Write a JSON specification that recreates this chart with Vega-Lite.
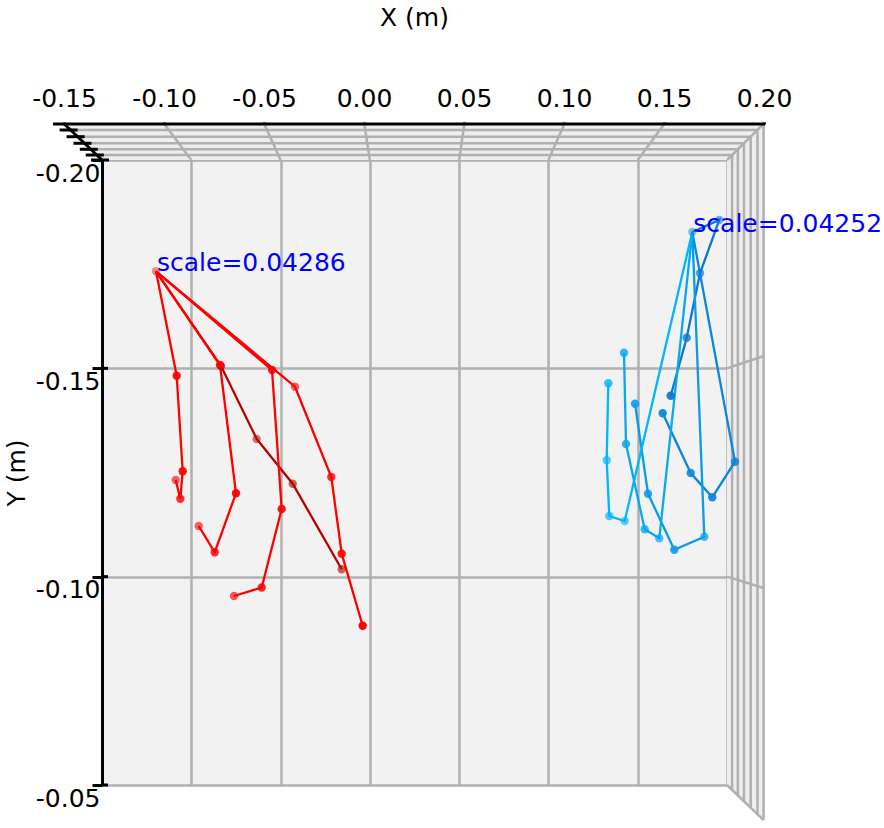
{
  "$schema": "https://vega.github.io/schema/vega-lite/v6.json",
  "width": 625,
  "height": 625,
  "autosize": {"type": "none"},
  "padding": {"left": 102, "top": 160, "right": 157, "bottom": 43},
  "background": "white",
  "config": {"view": {"fill": "#f2f2f2", "stroke": null}, "font": "DejaVu Sans"},
  "datasets": {
    "skeleton": [
      {"chain": "r0", "i": 0, "x": -0.11976, "y": -0.17329, "z": 0.2},
      {"chain": "r0", "i": 1, "x": -0.08336, "y": -0.15056, "z": 0.6},
      {"chain": "r0", "i": 2, "x": -0.06337, "y": -0.13304, "z": 0.35},
      {"chain": "r0", "i": 3, "x": -0.04321, "y": -0.12231, "z": 0.45},
      {"chain": "r0", "i": 4, "x": -0.01577, "y": -0.10177, "z": 0.45},
      {"chain": "r1", "i": 0, "x": -0.11976, "y": -0.17329, "z": 0.2},
      {"chain": "r1", "i": 1, "x": -0.10817, "y": -0.14823, "z": 0.9},
      {"chain": "r1", "i": 2, "x": -0.10481, "y": -0.12529, "z": 0.9},
      {"chain": "r1", "i": 3, "x": -0.10615, "y": -0.11871, "z": 0.75},
      {"chain": "r1", "i": 4, "x": -0.10873, "y": -0.1232, "z": 0.45},
      {"chain": "r2", "i": 0, "x": -0.11976, "y": -0.17329, "z": 0.2},
      {"chain": "r2", "i": 1, "x": -0.08392, "y": -0.1508, "z": 0.9},
      {"chain": "r2", "i": 2, "x": -0.07496, "y": -0.12001, "z": 0.9},
      {"chain": "r2", "i": 3, "x": -0.08689, "y": -0.10585, "z": 0.75},
      {"chain": "r2", "i": 4, "x": -0.09585, "y": -0.11216, "z": 0.45},
      {"chain": "r3", "i": 0, "x": -0.11976, "y": -0.17329, "z": 0.2},
      {"chain": "r3", "i": 1, "x": -0.0548, "y": -0.1496, "z": 0.8},
      {"chain": "r3", "i": 2, "x": -0.04937, "y": -0.11624, "z": 0.9},
      {"chain": "r3", "i": 3, "x": -0.06057, "y": -0.0974, "z": 0.8},
      {"chain": "r3", "i": 4, "x": -0.07608, "y": -0.09536, "z": 0.5},
      {"chain": "r4", "i": 0, "x": -0.11976, "y": -0.17329, "z": 0.2},
      {"chain": "r4", "i": 1, "x": -0.04192, "y": -0.14559, "z": 0.45},
      {"chain": "r4", "i": 2, "x": -0.02159, "y": -0.12392, "z": 0.75},
      {"chain": "r4", "i": 3, "x": -0.01577, "y": -0.10551, "z": 0.85},
      {"chain": "r4", "i": 4, "x": -0.00401, "y": -0.08823, "z": 1.0},
      {"chain": "b0", "i": 0, "x": 0.18057, "y": -0.18272, "z": 0.3},
      {"chain": "b0", "i": 1, "x": 0.19569, "y": -0.1856, "z": 0.4},
      {"chain": "b0", "i": 2, "x": 0.18488, "y": -0.17281, "z": 0.55},
      {"chain": "b0", "i": 3, "x": 0.17743, "y": -0.15735, "z": 0.7},
      {"chain": "b0", "i": 4, "x": 0.16847, "y": -0.14343, "z": 0.9},
      {"chain": "b1", "i": 0, "x": 0.18057, "y": -0.18272, "z": 0.3},
      {"chain": "b1", "i": 1, "x": 0.20448, "y": -0.12759, "z": 0.8},
      {"chain": "b1", "i": 2, "x": 0.19177, "y": -0.11905, "z": 0.9},
      {"chain": "b1", "i": 3, "x": 0.17967, "y": -0.12488, "z": 0.85},
      {"chain": "b1", "i": 4, "x": 0.16399, "y": -0.13921, "z": 0.9},
      {"chain": "b2", "i": 0, "x": 0.18057, "y": -0.18272, "z": 0.3},
      {"chain": "b2", "i": 1, "x": 0.18729, "y": -0.10959, "z": 0.6},
      {"chain": "b2", "i": 2, "x": 0.17049, "y": -0.10647, "z": 0.85},
      {"chain": "b2", "i": 3, "x": 0.15576, "y": -0.11991, "z": 0.8},
      {"chain": "b2", "i": 4, "x": 0.14848, "y": -0.14151, "z": 0.85},
      {"chain": "b3", "i": 0, "x": 0.18057, "y": -0.18272, "z": 0.3},
      {"chain": "b3", "i": 1, "x": 0.16209, "y": -0.10921, "z": 0.55},
      {"chain": "b3", "i": 2, "x": 0.15391, "y": -0.11137, "z": 0.7},
      {"chain": "b3", "i": 3, "x": 0.14344, "y": -0.13184, "z": 0.75},
      {"chain": "b3", "i": 4, "x": 0.14232, "y": -0.15375, "z": 0.75},
      {"chain": "b4", "i": 0, "x": 0.18057, "y": -0.18272, "z": 0.3},
      {"chain": "b4", "i": 1, "x": 0.14271, "y": -0.11336, "z": 0.5},
      {"chain": "b4", "i": 2, "x": 0.13409, "y": -0.11456, "z": 0.55},
      {"chain": "b4", "i": 3, "x": 0.13263, "y": -0.12793, "z": 0.55},
      {"chain": "b4", "i": 4, "x": 0.13353, "y": -0.14641, "z": 0.75}
    ],
    "grayFrame": [
      {"x": -0.16758, "y": -0.2072, "x2": 0.21708, "y2": -0.2072},
      {"x": -0.16366, "y": -0.20559, "x2": 0.21326, "y2": -0.20559},
      {"x": -0.1598, "y": -0.20401, "x2": 0.20951, "y2": -0.20401},
      {"x": -0.15627, "y": -0.20257, "x2": 0.20609, "y2": -0.20257},
      {"x": -0.15293, "y": -0.2012, "x2": 0.20285, "y2": -0.2012},
      {"x": 0.2205, "y": -0.20864, "x2": 0.2205, "y2": -0.0416},
      {"x": 0.21708, "y": -0.2072, "x2": 0.21708, "y2": -0.043},
      {"x": 0.21326, "y": -0.20559, "x2": 0.21326, "y2": -0.04457},
      {"x": 0.20951, "y": -0.20401, "x2": 0.20951, "y2": -0.0461},
      {"x": 0.20609, "y": -0.20257, "x2": 0.20609, "y2": -0.04751},
      {"x": 0.20285, "y": -0.2012, "x2": 0.20285, "y2": -0.04883},
      {"x": 0.2205, "y": -0.20864, "x2": 0.2, "y2": -0.2},
      {"x": 0.2, "y": -0.05, "x2": 0.2205, "y2": -0.0416},
      {"x": -0.115112, "y": -0.20864, "x2": -0.1, "y2": -0.2},
      {"x": -0.059112, "y": -0.20864, "x2": -0.05, "y2": -0.2},
      {"x": -0.003112, "y": -0.20864, "x2": 0, "y2": -0.2},
      {"x": 0.052888, "y": -0.20864, "x2": 0.05, "y2": -0.2},
      {"x": 0.108888, "y": -0.20864, "x2": 0.1, "y2": -0.2},
      {"x": 0.164888, "y": -0.20864, "x2": 0.15, "y2": -0.2},
      {"x": 0.2, "y": -0.15, "x2": 0.2205, "y2": -0.15296},
      {"x": 0.2, "y": -0.1, "x2": 0.2205, "y2": -0.09728}
    ],
    "blackFrame": [
      {"x": -0.17744, "y": -0.20864, "x2": 0.22128, "y2": -0.20864},
      {"x": -0.17111, "y": -0.20864, "x2": -0.15, "y2": -0.2},
      {"x": -0.17374, "y": -0.2072, "x2": -0.16366, "y2": -0.2072},
      {"x": -0.16982, "y": -0.20559, "x2": -0.15974, "y2": -0.20559},
      {"x": -0.16596, "y": -0.20401, "x2": -0.15588, "y2": -0.20401},
      {"x": -0.16243, "y": -0.20257, "x2": -0.15235, "y2": -0.20257},
      {"x": -0.15909, "y": -0.2012, "x2": -0.14901, "y2": -0.2012},
      {"x": -0.15616, "y": -0.2, "x2": -0.14608, "y2": -0.2},
      {"x": -0.15, "y": -0.15, "x2": -0.14664, "y2": -0.15},
      {"x": -0.15, "y": -0.1, "x2": -0.14664, "y2": -0.1},
      {"x": -0.15, "y": -0.05, "x2": -0.14664, "y2": -0.05}
    ]
  },
  "layer": [
    {
      "encoding": {
        "x": {
          "field": "x",
          "type": "quantitative",
          "scale": {"domain": [-0.15, 0.2], "nice": false, "zero": false},
          "axis": {
            "orient": "bottom",
            "values": [-0.15, -0.1, -0.05, 0, 0.05, 0.1, 0.15, 0.2],
            "grid": true,
            "gridColor": "#b0b0b0",
            "gridWidth": 2.5,
            "gridOpacity": 1,
            "labels": false,
            "ticks": false,
            "domain": false,
            "title": null
          }
        },
        "y": {
          "field": "y",
          "type": "quantitative",
          "scale": {"domain": [-0.2, -0.05], "reverse": true, "nice": false, "zero": false},
          "axis": {
            "orient": "left",
            "values": [-0.2, -0.15, -0.1, -0.05],
            "labelExpr": "(datum.value < 0 ? '-' : '') + format(abs(datum.value), '.2f')",
            "grid": true,
            "gridColor": "#b0b0b0",
            "gridWidth": 2.5,
            "gridOpacity": 1,
            "domainColor": "black",
            "domainWidth": 3,
            "tickColor": "black",
            "tickWidth": 3,
            "tickSize": 10,
            "labelFontSize": 25,
            "labelFont": "DejaVu Sans",
            "labelColor": "black",
            "labelPadding": -8,
            "labelOffset": 13,
            "labelBaseline": "middle",
            "title": "Y (m)",
            "titleFont": "DejaVu Sans",
            "titleFontSize": 25,
            "titleFontWeight": "normal",
            "titleColor": "black",
            "titlePadding": 6
          }
        }
      },
      "layer": [
        {
          "data": {"values": [
            {"y": -0.20864, "x": -0.17111, "x2": 0.2205},
            {"y": -0.2, "x": -0.15, "x2": 0.2}
          ]},
          "mark": {"type": "area", "orient": "horizontal", "color": "#eeeeee", "clip": false},
          "encoding": {"x2": {"field": "x2"}}
        },
        {
          "data": {"values": [
            {"x": 0.2, "y": -0.2, "y2": -0.05},
            {"x": 0.2205, "y": -0.20864, "y2": -0.0416}
          ]},
          "mark": {"type": "area", "orient": "vertical", "color": "#eeeeee", "clip": false},
          "encoding": {"y2": {"field": "y2"}}
        },
        {
          "data": {"name": "grayFrame"},
          "mark": {"type": "rule", "color": "#b0b0b0", "strokeWidth": 2.5, "clip": false},
          "encoding": {"x2": {"field": "x2"}, "y2": {"field": "y2"}}
        },
        {
          "data": {"name": "blackFrame"},
          "mark": {"type": "rule", "color": "black", "strokeWidth": 3, "clip": false},
          "encoding": {"x2": {"field": "x2"}, "y2": {"field": "y2"}}
        },
        {
          "data": {"name": "skeleton"},
          "mark": {"type": "line", "strokeWidth": 2.3, "clip": false},
          "encoding": {
            "color": {
              "field": "chain",
              "type": "nominal",
              "scale": {
                "domain": ["r0", "r1", "r2", "r3", "r4", "b0", "b1", "b2", "b3", "b4"],
                "range": ["#b80000", "#ff0000", "#ff0000", "#ff0000", "#ff0000", "#0a78d0", "#0a86dc", "#0a9ae8", "#05a8f2", "#00b6fc"]
              },
              "legend": null
            },
            "order": {"field": "i", "type": "quantitative"}
          }
        },
        {
          "data": {"name": "skeleton"},
          "transform": [{"filter": "datum.i > 0 || datum.chain == 'r1' || datum.chain == 'b1'"}],
          "mark": {"type": "circle", "size": 70, "clip": false},
          "encoding": {
            "color": {
              "field": "chain",
              "type": "nominal",
              "scale": {
                "domain": ["r0", "r1", "r2", "r3", "r4", "b0", "b1", "b2", "b3", "b4"],
                "range": ["#b80000", "#ff0000", "#ff0000", "#ff0000", "#ff0000", "#0a78d0", "#0a86dc", "#0a9ae8", "#05a8f2", "#00b6fc"]
              },
              "legend": null
            },
            "opacity": {
              "field": "z",
              "type": "quantitative",
              "scale": {"domain": [0, 1], "range": [0.3, 1]},
              "legend": null
            }
          }
        },
        {
          "data": {"values": [
            {"x": -0.11976, "y": -0.17329, "label": "scale=0.04286"},
            {"x": 0.18057, "y": -0.18272, "label": "scale=0.04252"}
          ]},
          "mark": {"type": "text", "align": "left", "baseline": "alphabetic", "fontSize": 25, "font": "DejaVu Sans", "color": "#0000ff", "dx": 1, "clip": false},
          "encoding": {"text": {"field": "label"}}
        }
      ]
    },
    {
      "data": {"values": [
        {"v": -0.15}, {"v": -0.1}, {"v": -0.05}, {"v": 0}, {"v": 0.05}, {"v": 0.1}, {"v": 0.15}, {"v": 0.2}
      ]},
      "mark": {"type": "point", "opacity": 0},
      "encoding": {
        "x": {
          "field": "v",
          "type": "quantitative",
          "scale": {"domain": [-0.15, 0.2], "range": [-38, 662], "nice": false, "zero": false},
          "axis": {
            "orient": "top",
            "offset": 36,
            "values": [-0.15, -0.1, -0.05, 0, 0.05, 0.1, 0.15, 0.2],
            "labelExpr": "(datum.value < 0 ? '-' : '') + format(abs(datum.value), '.2f')",
            "domain": false,
            "grid": false,
            "ticks": true,
            "tickSize": 2,
            "tickWidth": 3,
            "tickColor": "black",
            "labelFontSize": 25,
            "labelFont": "DejaVu Sans",
            "labelColor": "black",
            "labelBaseline": "alphabetic",
            "labelPadding": 16,
            "labelFlush": false,
            "labelOverlap": false,
            "title": "X (m)",
            "titleFont": "DejaVu Sans",
            "titleFontSize": 25,
            "titleFontWeight": "normal",
            "titleColor": "black",
            "titlePadding": 56
          }
        }
      }
    }
  ],
  "resolve": {"scale": {"x": "independent"}}
}
